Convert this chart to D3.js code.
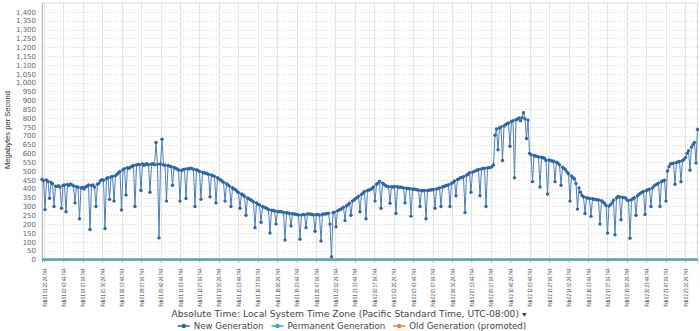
<!DOCTYPE html>
<html>
<head>
<meta charset="utf-8">
<script src="https://cdn.jsdelivr.net/npm/d3@7"></script>
<style>
  html, body { margin: 0; padding: 0; background: #fff; }
  svg { display: block; }
</style>
</head>
<body>
<svg id="chart" width="700" height="331"></svg>
<script>
// Sampling of the throughput recording
const sampleStart = "2011-02-01T01:11:50.744";
const sampleStepSeconds = 386;

// New Generation throughput, MB/s, one value per sample
const newGeneration = [
  452,447,282,449,441,346,436,428,300,415,
  413,417,410,290,419,421,270,424,418,427,
  422,416,320,412,409,230,404,407,398,410,
  414,421,170,418,422,410,300,425,432,446,
  451,448,175,458,462,340,466,470,330,474,
  482,490,498,280,508,514,365,519,516,522,
  527,531,300,534,538,536,390,540,533,537,
  541,536,380,539,542,535,661,538,122,540,
  680,535,533,330,531,528,526,420,520,516,
  512,506,330,503,508,511,345,514,512,516,
  514,510,300,507,503,498,340,494,490,488,
  486,481,355,478,474,470,320,462,455,449,
  444,436,330,428,421,415,300,406,399,394,
  386,378,290,370,365,358,250,348,343,338,
  333,326,180,320,312,308,210,300,296,292,
  288,283,150,279,277,274,200,272,270,271,
  269,266,110,264,263,261,190,259,258,256,
  254,252,115,251,255,253,180,257,258,256,
  254,252,160,253,255,250,105,256,258,257,
  260,262,200,16,265,268,185,275,280,283,
  289,295,220,303,310,318,250,330,337,343,
  350,358,270,368,376,385,230,390,393,396,
  402,410,330,425,432,441,290,432,425,418,
  414,411,318,412,409,413,260,411,408,410,
  407,405,320,403,401,400,245,399,397,398,
  394,392,300,390,389,391,230,390,392,393,
  394,396,290,398,402,405,300,410,413,417,
  419,423,300,430,436,444,360,452,456,462,
  464,468,265,476,482,490,380,494,497,501,
  505,509,360,512,515,516,300,518,519,521,
  525,535,702,738,620,744,750,560,755,762,
  768,772,640,780,785,462,790,794,800,785,
  802,830,795,684,788,600,593,440,588,585,
  583,580,410,578,575,572,560,370,563,560,
  557,555,440,550,545,535,420,522,515,508,
  495,485,330,472,462,455,430,285,405,380,
  362,355,260,350,347,345,245,343,341,340,
  338,336,200,333,326,318,305,150,302,310,
  320,335,140,348,356,354,225,352,350,348,
  336,334,120,338,345,350,250,360,368,375,
  380,385,255,390,394,398,300,405,415,422,
  426,432,300,440,445,448,330,500,525,540,
  542,545,425,548,552,554,440,560,566,576,
  600,615,505,635,650,662,545,735
];

// Permanent and Old Generation throughput, MB/s, sampled once per tick interval
const permanentGeneration = [0,0,0,0,0,0,0,0,0,0,0,0,0,0,0,0,0,0,0,0,0,0,0,0,0,0,0,0,0,0,0,0,0,0,0];
const oldGeneration       = [0,0,0,0,0,0,0,0,0,0,0,0,0,0,0,0,0,0,0,0,0,0,0,0,0,0,0,0,0,0,0,0,0,0,0];

// Time axis labels
const tickLabels = [
  "Feb 01 01:20:24.744","Feb 01 02:43:44.744","Feb 01 04:07:04.744","Feb 01 05:30:24.744",
  "Feb 01 06:53:44.744","Feb 01 08:17:04.744","Feb 01 09:40:24.744","Feb 01 11:03:44.744",
  "Feb 01 12:27:04.744","Feb 01 13:50:24.744","Feb 01 15:13:44.744","Feb 01 16:37:04.744",
  "Feb 01 18:00:24.744","Feb 01 19:23:44.744","Feb 01 20:47:04.744","Feb 01 22:10:24.744",
  "Feb 01 23:33:44.744","Feb 02 00:57:04.744","Feb 02 02:20:24.744","Feb 02 03:43:44.744",
  "Feb 02 05:07:04.744","Feb 02 06:30:24.744","Feb 02 07:53:44.744","Feb 02 09:17:04.744",
  "Feb 02 10:40:24.744","Feb 02 12:03:44.744","Feb 02 13:27:04.744","Feb 02 14:50:24.744",
  "Feb 02 16:13:44.744","Feb 02 17:37:04.744","Feb 02 19:00:24.744","Feb 02 20:23:44.744",
  "Feb 02 21:47:04.744","Feb 02 23:10:24.744"
];
const yTicks = d3.range(0, 1401, 50);

const seriesNames = ["New Generation", "Permanent Generation", "Old Generation (promoted)"];
const seriesColors = ["#2f67a6", "#3ea6c2", "#f08030"];

const svg = d3.select("#chart");
const plot = { left: 42, right: 697.5, top: 3, bottom: 259.5 };

const parseSample = d3.timeParse("%Y-%m-%dT%H:%M:%S.%L");
const parseTick = s => d3.timeParse("%Y %b %d %H:%M:%S.%L")("2011 " + s);
const t0 = parseSample(sampleStart);
const timeAt = i => new Date(t0.getTime() + i * sampleStepSeconds * 1000);
const tEnd = timeAt(newGeneration.length - 1);

const x = d3.scaleTime().domain([t0, tEnd]).range([plot.left, plot.right]);
const y = d3.scaleLinear().domain([0, 1450]).range([plot.bottom, plot.top]);
const tickDates = tickLabels.map(parseTick);

// Plot frame
svg.append("rect")
  .attr("x", plot.left).attr("y", plot.top)
  .attr("width", plot.right - plot.left).attr("height", plot.bottom - plot.top)
  .attr("fill", "none").attr("stroke", "#dadada").attr("stroke-width", 1);

// Horizontal dotted grid
svg.append("g").selectAll("line").data(yTicks.filter(d => d > 0)).join("line")
  .attr("x1", plot.left).attr("x2", plot.right)
  .attr("y1", d => Math.round(y(d)) + 0.5).attr("y2", d => Math.round(y(d)) + 0.5)
  .attr("stroke", "#d4d4d4").attr("stroke-dasharray", "1,2");

// Vertical grid at each time tick
svg.append("g").selectAll("line").data(tickDates).join("line")
  .attr("x1", d => Math.round(x(d)) + 0.5).attr("x2", d => Math.round(x(d)) + 0.5)
  .attr("y1", plot.top).attr("y2", plot.bottom)
  .attr("stroke", "#e3e3e3");

// Y axis
const yAxis = d3.axisLeft(y).tickValues(yTicks).tickSize(0).tickPadding(6)
  .tickFormat(d3.format(","));
const gy = svg.append("g").attr("transform", `translate(${plot.left},0)`).call(yAxis);
gy.select(".domain").attr("stroke", "#b8b8b8");
gy.selectAll("text").attr("font-family", "DejaVu Sans").attr("font-size", 7).attr("fill", "#666");

// X axis
const xAxis = d3.axisBottom(x).tickValues(tickDates).tickSize(3).tickFormat((d, i) => tickLabels[i]);
const gx = svg.append("g").attr("transform", `translate(0,${plot.bottom})`).call(xAxis);
gx.select(".domain").attr("stroke", "#b8b8b8");
gx.selectAll(".tick line").attr("stroke", "#aaa");
gx.selectAll("text")
  .attr("font-family", "DejaVu Sans Condensed, DejaVu Sans").attr("font-size", 5.8).attr("fill", "#3a3a3a")
  .attr("text-anchor", "end")
  .attr("transform", "translate(0,9) rotate(-90)")
  .attr("x", 0).attr("y", 0).attr("dy", "0.35em")
  .attr("textLength", 38).attr("lengthAdjust", "spacingAndGlyphs");

// Y axis title
svg.append("text")
  .attr("transform", "translate(7,130) rotate(-90)")
  .attr("text-anchor", "middle").attr("dy", "0.35em")
  .attr("font-family", "Liberation Sans Narrow, Liberation Sans").attr("font-size", 8).attr("fill", "#333")
  .attr("textLength", 78).attr("lengthAdjust", "spacingAndGlyphs")
  .text("Megabytes per Second");

// X axis title
svg.append("text")
  .attr("transform", "translate(349,314) scale(1.15,1)")
  .attr("dy", "0.35em").attr("text-anchor", "middle")
  .attr("font-family", "DejaVu Sans").attr("font-size", 8).attr("fill", "#444")
  .text("Absolute Time: Local System Time Zone (Pacific Standard Time, UTC-08:00) \u25BE");

// Low series along the baseline
const coarseStep = (tEnd - t0) / (permanentGeneration.length - 1);
const coarseTime = i => new Date(t0.getTime() + i * coarseStep);
const coarseLine = d3.line().x((d, i) => x(coarseTime(i))).y(d => y(d));
svg.append("path").datum(oldGeneration).attr("d", coarseLine)
  .attr("fill", "none").attr("stroke", seriesColors[2]).attr("stroke-width", 1);
svg.append("path").datum(permanentGeneration).attr("d", coarseLine)
  .attr("fill", "none").attr("stroke", "#55a2b6").attr("stroke-width", 2.5);

// New Generation line and markers
const line = d3.line().x((d, i) => x(timeAt(i))).y(d => y(d));
svg.append("path").datum(newGeneration).attr("d", line)
  .attr("fill", "none").attr("stroke", "#4d80b8").attr("stroke-width", 1);
svg.append("g").selectAll("circle").data(newGeneration).join("circle")
  .attr("cx", (d, i) => x(timeAt(i))).attr("cy", d => y(d)).attr("r", 1.7)
  .attr("fill", seriesColors[0]);

// Legend
const legendScale = 1.08;
const legend = svg.append("g");
const items = [];
seriesNames.forEach((name, i) => {
  const g = legend.append("g");
  g.append("line").attr("x1", 0).attr("x2", 12).attr("y1", 0).attr("y2", 0)
    .attr("stroke", seriesColors[i]).attr("stroke-width", 1.5);
  g.append("circle").attr("cx", 6).attr("cy", 0).attr("r", 2.2).attr("fill", seriesColors[i]);
  const t = g.append("text").attr("dy", "0.35em")
    .attr("transform", "scale(" + legendScale + ",1)").attr("x", 16 / legendScale)
    .attr("font-family", "DejaVu Sans").attr("font-size", 8).attr("fill", "#444").text(name);
  const w = 16 + t.node().getComputedTextLength() * legendScale;
  items.push({ g, w });
});
const gap = 8;
const total = d3.sum(items, d => d.w) + gap * (items.length - 1);
let lx = 352 - total / 2;
items.forEach(it => { it.g.attr("transform", `translate(${lx},326)`); lx += it.w + gap; });
</script>
</body>
</html>
